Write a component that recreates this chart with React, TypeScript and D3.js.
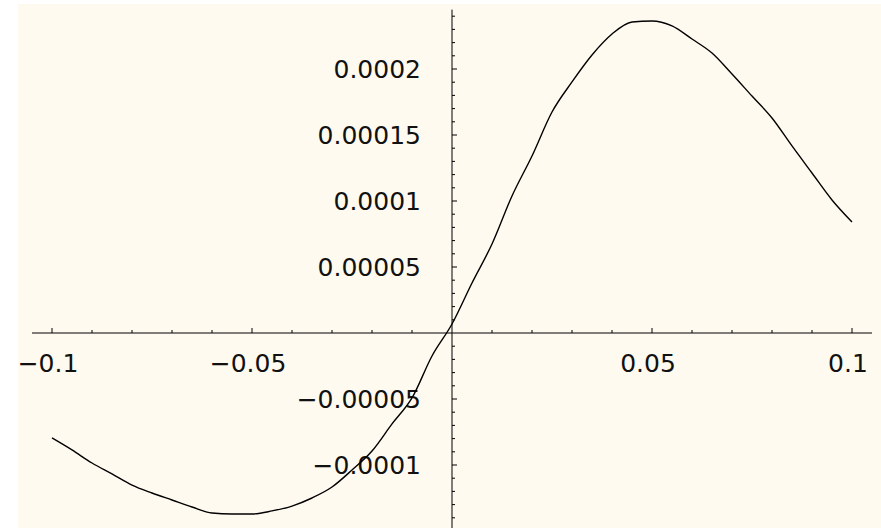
import React, { useEffect, useRef } from "react";
import * as d3 from "d3";

const xs = [
  -0.1, -0.095, -0.09, -0.085, -0.08, -0.075, -0.07, -0.065, -0.06, -0.055,
  -0.05, -0.045, -0.04, -0.035, -0.03, -0.025, -0.02, -0.015, -0.01, -0.005,
  0, 0.005, 0.01, 0.015, 0.02, 0.025, 0.03, 0.035, 0.04, 0.045, 0.05, 0.055,
  0.06, 0.065, 0.07, 0.075, 0.08, 0.085, 0.09, 0.095, 0.1,
];
const ys = [
  -0.0000795, -0.0000886, -0.0000985, -0.0001068, -0.0001152, -0.0001212,
  -0.0001265, -0.0001318, -0.0001364, -0.0001371, -0.0001371, -0.0001348,
  -0.0001311, -0.000125, -0.0001167, -0.0001038, -0.0000894, -0.0000689,
  -0.0000492, -0.0000174, 0.0000068, 0.0000379, 0.0000674, 0.0001038,
  0.0001341, 0.0001674, 0.0001902, 0.0002106, 0.0002265, 0.0002356,
  0.0002364, 0.0002326, 0.0002227, 0.0002121, 0.0001962, 0.0001795,
  0.0001629, 0.0001417, 0.0001212, 0.0001008, 0.0000841,
];
const xMajor = [-0.1, -0.05, 0.05, 0.1];
const xLabels = ["\u22120.1", "\u22120.05", "0.05", "0.1"];
const yMajor = [-0.0001, -0.00005, 0.00005, 0.0001, 0.00015, 0.0002];
const yLabels = ["\u22120.0001", "\u22120.00005", "0.00005", "0.0001", "0.00015", "0.0002"];

const W = 881;
const H = 528;

const App = () => {
  const ref = useRef<SVGSVGElement>(null);
  useEffect(() => {
    const svg = d3.select(ref.current);
    svg.selectAll("*").remove();

    const x = d3.scaleLinear().domain([-0.1, 0.1]).range([52, 852]);
    const y = d3.scaleLinear().domain([0, 0.0002]).range([333, 69]);

    svg.append("rect").attr("width", W).attr("height", H).attr("fill", "#fff");
    svg
      .append("rect")
      .attr("x", 18)
      .attr("y", 4)
      .attr("width", W - 18)
      .attr("height", H - 4)
      .attr("fill", "#fffaf0");

    const g = svg.append("g").attr("stroke", "#000").attr("stroke-width", 1);
    const x0 = x(0);
    const y0 = y(0);

    // x axis
    g.append("line")
      .attr("x1", x(-0.105))
      .attr("x2", x(0.105))
      .attr("y1", y0)
      .attr("y2", y0);
    d3.range(-10, 11).forEach((i) => {
      if (i === 0) return;
      const major = i % 5 === 0;
      g.append("line")
        .attr("x1", x(i * 0.01))
        .attr("x2", x(i * 0.01))
        .attr("y1", y0)
        .attr("y2", y0 - (major ? 5 : 3));
    });

    // y axis
    g.append("line")
      .attr("x1", x0)
      .attr("x2", x0)
      .attr("y1", y(0.000245))
      .attr("y2", H);
    d3.range(-15, 25).forEach((i) => {
      if (i === 0) return;
      const major = i % 5 === 0;
      g.append("line")
        .attr("x1", x0)
        .attr("x2", x0 + (major ? 5 : 3))
        .attr("y1", y(i * 0.00001))
        .attr("y2", y(i * 0.00001));
    });

    const txt = svg
      .append("g")
      .attr("font-family", "DejaVu Sans")
      .attr("font-size", 25)
      .attr("fill", "#111");
    txt
      .selectAll("text.xl")
      .data(xMajor)
      .enter()
      .append("text")
      .attr("x", (d) => x(d) - 4)
      .attr("y", 372)
      .attr("text-anchor", "middle")
      .text((d, i) => xLabels[i]);
    txt
      .selectAll("text.yl")
      .data(yMajor)
      .enter()
      .append("text")
      .attr("x", 421)
      .attr("y", (d) => y(d) + 9)
      .attr("text-anchor", "end")
      .text((d, i) => yLabels[i]);

    const line = d3
      .line<number>()
      .x((d, i) => x(xs[i]))
      .y((d) => y(d))
      .curve(d3.curveMonotoneX);
    svg
      .append("path")
      .attr("d", line(ys))
      .attr("fill", "none")
      .attr("stroke", "#000")
      .attr("stroke-width", 1.4);
  }, []);
  return (
    <svg
      ref={ref}
      width={W}
      height={H}
      style={{ position: "absolute", left: 0, top: 0 }}
    />
  );
};

export default App;
